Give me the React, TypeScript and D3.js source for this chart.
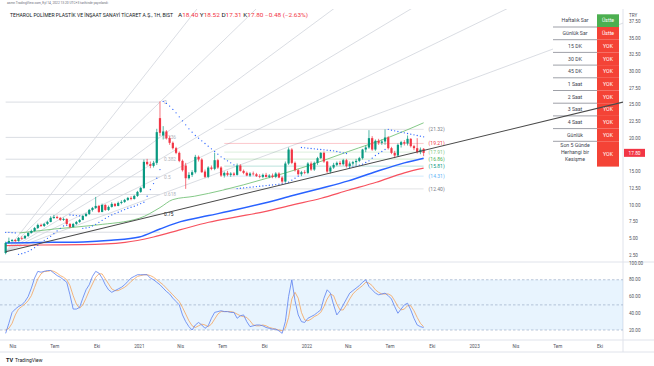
import React, { useRef, useEffect } from 'react';
import * as d3 from 'd3';

// weekly candles, first bar = week of 2020-03-16
const firstWeek = '2020-03-16';
const opens = [
  2.8, 4.3, 4.6, 4.75, 4.6, 5.05, 5.0, 5.35, 5.8, 6.1,
  6.55, 7.0, 6.85, 7.15, 7.45, 8.05, 8.2, 8.05, 7.75, 7.9,
  7.15, 6.7, 7.15, 7.45, 7.75, 8.35, 8.65, 9.25, 9.55, 9.85,
  8.95, 10.0, 9.25, 9.7, 10.15, 9.85, 10.3, 10.45, 10.75, 11.05,
  10.9, 11.35, 11.95, 12.55, 16.45, 16.1, 15.85, 16.3, 23.0, 20.4,
  21.0, 20.0, 19.3, 18.5, 17.8, 16.6, 15.9, 14.0, 14.5, 14.9,
  17.2, 16.8, 15.0, 14.2, 15.6, 15.4, 16.7, 15.6, 14.4, 14.8,
  14.5, 14.7, 14.5, 15.9, 15.1, 14.8, 14.4, 14.7, 14.6, 14.3,
  14.2, 14.5, 14.2, 14.4, 14.2, 14.7, 14.1, 13.5, 16.2, 18.3,
  16.3, 15.2, 14.6, 14.9, 14.8, 16.2, 15.3, 16.3, 17.0, 17.8,
  16.5, 15.0, 15.6, 16.0, 16.3, 16.1, 16.7, 15.8, 16.2, 16.4,
  16.6, 17.0, 18.3, 18.6, 20.0, 18.3, 19.6, 19.3, 19.5, 20.1,
  18.5, 17.8, 17.4, 19.0, 19.4, 19.2, 19.9, 18.8, 18.5, 17.9,
  18.4,
];
const highs = [
  4.5, 5.1, 4.9, 4.9, 5.2, 5.3, 5.5, 5.9, 6.3, 6.7,
  7.2, 7.2, 7.3, 7.6, 8.3, 8.5, 8.4, 8.2, 8.1, 8.0,
  7.3, 7.3, 7.6, 7.9, 8.5, 8.8, 9.4, 9.7, 11.2, 10.0,
  10.2, 10.1, 9.9, 10.4, 10.3, 10.5, 10.7, 10.9, 11.2, 11.3,
  11.5, 12.1, 12.7, 16.8, 16.9, 16.5, 16.6, 21.4, 25.5, 21.8,
  21.2, 20.3, 19.5, 18.7, 18.0, 16.8, 16.3, 14.9, 15.2, 17.5,
  17.4, 17.0, 15.3, 15.8, 15.9, 17.8, 16.9, 15.8, 15.0, 15.1,
  14.9, 14.9, 16.2, 16.1, 15.3, 15.0, 14.9, 15.0, 14.8, 14.6,
  14.7, 14.8, 14.6, 14.7, 14.9, 14.9, 14.3, 16.5, 18.6, 18.5,
  16.5, 15.4, 15.1, 15.2, 16.4, 16.5, 16.5, 17.2, 17.9, 18.0,
  16.6, 15.8, 16.3, 16.5, 16.6, 16.9, 16.9, 16.5, 16.6, 16.9,
  17.2, 18.4, 18.9, 21.2, 20.3, 19.8, 19.9, 19.8, 21.32, 20.3,
  18.7, 18.1, 19.2, 19.6, 19.7, 20.4, 20.0, 19.0, 20.0, 18.6,
  18.52,
];
const lows = [
  2.6, 4.2, 4.4, 4.4, 4.5, 4.8, 4.9, 5.2, 5.7, 6.0,
  6.4, 6.7, 6.7, 7.0, 7.4, 7.9, 7.9, 7.6, 7.6, 7.0,
  6.5, 6.6, 7.0, 7.3, 7.7, 8.2, 8.5, 9.0, 9.4, 8.8,
  8.9, 9.1, 9.1, 9.6, 9.7, 9.8, 10.1, 10.3, 10.6, 10.7,
  10.8, 11.2, 11.8, 12.4, 15.9, 15.5, 15.6, 16.0, 20.3, 19.8,
  19.8, 19.0, 18.3, 17.6, 16.4, 15.0, 12.4, 13.8, 14.2, 14.7,
  16.5, 14.8, 14.0, 14.0, 15.2, 15.2, 15.4, 14.2, 14.1, 14.3,
  14.2, 14.3, 14.4, 15.0, 14.6, 14.3, 14.2, 14.4, 14.2, 14.0,
  14.0, 14.1, 14.0, 14.0, 14.0, 14.0, 13.2, 13.4, 16.0, 16.1,
  15.0, 14.4, 14.3, 14.6, 14.6, 15.1, 15.1, 16.0, 16.9, 16.3,
  14.8, 14.7, 15.4, 15.8, 15.9, 15.9, 15.6, 15.6, 15.9, 15.9,
  16.4, 16.8, 17.9, 18.4, 18.1, 18.1, 19.0, 19.0, 19.0, 18.3,
  17.6, 17.0, 17.2, 18.6, 18.9, 18.9, 18.6, 18.2, 17.7, 17.6,
  17.31,
];
const closes = [
  4.3, 4.6, 4.75, 4.6, 5.05, 5.0, 5.35, 5.8, 6.1, 6.55,
  7.0, 6.85, 7.15, 7.45, 8.05, 8.2, 8.05, 7.75, 7.9, 7.15,
  6.7, 7.15, 7.45, 7.75, 8.35, 8.65, 9.25, 9.55, 9.85, 8.95,
  10.0, 9.25, 9.7, 10.15, 9.85, 10.3, 10.45, 10.75, 11.05, 10.9,
  11.35, 11.95, 12.55, 16.45, 16.1, 15.85, 16.3, 20.9, 20.8, 21.0,
  20.0, 19.3, 18.5, 17.8, 16.6, 15.2, 14.0, 14.5, 14.9, 17.2,
  16.8, 14.9, 14.2, 15.6, 15.4, 16.7, 15.6, 14.4, 14.8, 14.5,
  14.7, 14.5, 15.9, 15.1, 14.8, 14.4, 14.7, 14.6, 14.3, 14.2,
  14.5, 14.2, 14.4, 14.2, 14.7, 14.1, 13.5, 16.2, 18.3, 16.3,
  15.2, 14.6, 14.9, 14.8, 16.2, 15.3, 16.3, 17.0, 17.8, 16.5,
  15.0, 15.6, 16.0, 16.3, 16.1, 16.7, 15.8, 16.2, 16.4, 16.6,
  17.0, 18.3, 18.6, 20.0, 18.3, 19.6, 19.3, 19.5, 20.1, 18.5,
  17.8, 17.4, 19.0, 19.4, 19.2, 19.9, 18.8, 18.5, 17.9, 18.28,
  17.8,
];
// parabolic SAR, one dot per week
const sar = [
  5.9, 5.9, 5.85, 5.8, 2.6, 2.7, 2.85, 3.05, 3.3, 3.6,
  3.95, 4.35, 4.7, 5.0, 5.3, 5.7, 6.1, 6.5, 6.85, 6.95,
  8.5, 8.45, 8.4, 8.35, 6.5, 6.55, 6.65, 6.85, 7.1, 7.4,
  7.7, 8.0, 8.25, 8.5, 8.7, 8.9, 9.1, 9.3, 9.5, 9.65,
  9.8, 10.0, 10.2, 10.4, 11.3, 12.3, 13.2, 14.0, 15.3, 25.5,
  25.2, 24.8, 24.3, 23.8, 23.2, 22.6, 22.0, 21.4, 20.9, 20.4,
  20.0, 19.6, 19.2, 18.8, 18.4, 18.0, 17.6, 17.2, 16.9, 16.6,
  16.3, 16.0, 12.45, 12.5, 12.55, 12.6, 12.65, 12.7, 12.75, 12.8,
  12.85, 12.9, 12.95, 13.0, 13.05, 13.1, 13.15, 13.25, 13.4, 13.7,
  14.0, 14.3, 18.6, 18.55, 18.5, 18.45, 18.4, 18.35, 18.3, 18.25,
  18.2, 18.15, 18.1, 18.0, 17.9, 17.8, 17.7, 15.6, 15.7, 15.8,
  15.95, 16.1, 16.35, 16.6, 17.0, 17.4, 17.7, 18.0, 18.3, 21.32,
  21.2, 21.1, 21.0, 20.9, 20.8, 20.7, 20.6, 20.5, 20.4, 20.3,
  20.2,
];
// stochastic oscillator, weekly
const kLine = [
  16, 28, 41, 45, 48, 50, 54, 60, 70, 82,
  90, 89, 90, 91, 91, 88, 85, 83, 80, 77,
  62, 45, 45, 47, 58, 68, 74, 84, 90, 88,
  82, 74, 68, 65, 67, 69, 71, 74, 78, 82,
  84, 86, 86, 86, 86, 82, 80, 77, 74, 70,
  66, 63, 58, 54, 50, 38, 30, 24, 20, 26,
  29, 26, 22, 25, 34, 41, 42, 43, 42, 42,
  41, 41, 34, 37, 38, 30, 24, 25, 26, 26,
  25, 23, 22, 21, 21, 19, 16, 30, 60, 80,
  55, 38, 30, 29, 34, 36, 38, 41, 44, 58,
  68, 64, 50, 38, 43, 50, 57, 64, 67, 70,
  73, 77, 80, 72, 68, 64, 62, 63, 64, 61,
  57, 48, 40, 45, 50, 52, 44, 34, 26, 24,
  23,
];
const dLine = [
  20, 22, 28, 38, 45, 48, 51, 55, 61, 71,
  81, 87, 90, 90, 91, 90, 88, 85, 83, 80,
  73, 61, 51, 46, 50, 58, 67, 75, 83, 87,
  87, 81, 75, 69, 67, 67, 69, 71, 74, 78,
  81, 84, 85, 86, 86, 85, 83, 80, 77, 74,
  70, 66, 62, 58, 54, 47, 39, 31, 25, 23,
  25, 27, 26, 24, 27, 33, 39, 42, 42, 42,
  42, 41, 39, 37, 36, 35, 31, 26, 25, 25,
  26, 25, 23, 22, 21, 20, 19, 22, 35, 57,
  65, 58, 41, 32, 31, 33, 36, 38, 41, 48,
  57, 63, 61, 51, 44, 44, 50, 57, 63, 67,
  70, 73, 77, 76, 73, 68, 65, 63, 63, 63,
  61, 55, 48, 44, 45, 49, 49, 43, 35, 28,
  24,
];

// moving averages (read monthly)
const blueDates = ['2020-03-16', '2020-05-01', '2020-07-01', '2020-09-01', '2020-11-01', '2021-01-01', '2021-02-15', '2021-04-01', '2021-06-01', '2021-08-01', '2021-10-01', '2021-12-01', '2022-02-01', '2022-04-01', '2022-06-01', '2022-08-01', '2022-09-12'];
const blueValues = [4.3, 4.35, 4.4, 4.45, 4.7, 5.2, 6.4, 7.5, 8.4, 9.3, 10.3, 11.4, 12.5, 13.6, 15.0, 16.3, 17.0];
const redDates = ['2020-03-16', '2020-06-01', '2020-09-01', '2020-12-01', '2021-02-01', '2021-04-01', '2021-06-01', '2021-08-01', '2021-10-01', '2021-12-01', '2022-02-01', '2022-04-01', '2022-06-01', '2022-08-01', '2022-09-12'];
const redValues = [3.9, 4.0, 4.05, 4.4, 5.2, 6.3, 7.4, 8.2, 9.0, 10.0, 11.0, 12.2, 13.4, 14.8, 15.5];
const greenDates = ['2020-04-15', '2020-07-01', '2020-10-01', '2021-01-01', '2021-02-15', '2021-03-15', '2021-05-01', '2021-07-01', '2021-10-01', '2022-01-01', '2022-04-01', '2022-07-01', '2022-09-12'];
const greenValues = [5.8, 6.4, 7.0, 8.0, 9.6, 10.8, 11.3, 12.2, 13.9, 15.8, 18.0, 20.2, 22.3];

// fib speed fan (origin -> anchor)
const fanDates = ['2020-03-16', '2021-02-15'];
const fanPrices = [3.0, 25.4];
const fanGridLevels = [0, 0.236, 0.382, 0.5, 0.618, 0.75, 0.87];
const fanGridLabels = ['0', '0.236', '0.382', '0.5', '0.618', '0.75', ''];
const fanPriceLevels = [0, 0.236, 0.382, 0.5, 0.618];
const fanTimeLevels = [0.236];

// fib retracement on the right
const fibDates = ['2021-07-05', '2022-09-12'];
const fibPrices = [21.32, 19.21, 17.91, 16.86, 15.81, 14.31, 12.4];
const fibColors = ['#9598a1', '#f23645', '#81c784', '#4caf50', '#089981', '#64b5f6', '#9598a1'];

const priceTicks = [2.5, 5, 7.5, 10, 12.5, 15, 20, 22.5, 25, 27.5, 30, 32.5, 35, 37.5];
const oscTicks = [100, 80, 60, 40, 20];
const timeTickDates = ['2020-04-01', '2020-07-01', '2020-10-01', '2021-01-01', '2021-04-01', '2021-07-01', '2021-10-01', '2022-01-01', '2022-04-01', '2022-07-01', '2022-10-01', '2023-01-01', '2023-04-01', '2023-07-01', '2023-10-01'];
const timeTickLabels = ['Nis', 'Tem', 'Eki', '2021', 'Nis', 'Tem', 'Eki', '2022', 'Nis', 'Tem', 'Eki', '2023', 'Nis', 'Tem', 'Eki'];

const tableLabels = ['Haftalık Sar', 'Günlük Sar', '15 DK', '30 DK', '45 DK', '1 Saat', '2 Saat', '3 Saat', '4 Saat', 'Günlük'];
const tableValues = ['Üstte', 'Üstte', 'YOK', 'YOK', 'YOK', 'YOK', 'YOK', 'YOK', 'YOK', 'YOK'];
const tableLastLabel = ['Son 5 Günde', 'Herhangi bir', 'Kesişme'];

const FONT = 'Roboto, "Noto Sans", sans-serif';
const UP = '#089981';
const DOWN = '#f23645';

const App = () => {
  const chart = useRef<SVGSVGElement>(null);

  useEffect(() => {
    const svg = d3.select(chart.current);
    svg.selectAll('*').remove();
    const parse = d3.timeParse('%Y-%m-%d');
    const start = parse(firstWeek) as Date;
    const weeks = closes.map((_, i) => d3.timeDay.offset(start, i * 7));

    const paneRight = 623;
    const x = d3.scaleTime()
      .domain([parse('2020-04-01') as Date, parse('2023-10-01') as Date])
      .range([13, 600]);
    const y = d3.scaleLinear().domain([2.5, 35]).range([255, 38]);
    const yo = d3.scaleLinear().domain([20, 100]).range([330, 263]);

    svg.append('rect').attr('width', 654).attr('height', 366).attr('fill', '#fff');

    const defs = svg.append('defs');
    defs.append('clipPath').attr('id', 'pricePane')
      .append('rect').attr('x', 0).attr('y', 9).attr('width', paneRight).attr('height', 253);
    defs.append('clipPath').attr('id', 'oscPane')
      .append('rect').attr('x', 0).attr('y', 262).attr('width', paneRight).attr('height', 78);
    defs.append('clipPath').attr('id', 'axisClip')
      .append('rect').attr('x', paneRight).attr('y', 19).attr('width', 40).attr('height', 243);

    // frame
    svg.append('line').attr('x1', 0).attr('x2', 654).attr('y1', 262).attr('y2', 262).attr('stroke', '#e0e3eb');
    svg.append('line').attr('x1', 0).attr('x2', 654).attr('y1', 340).attr('y2', 340).attr('stroke', '#e0e3eb');
    svg.append('line').attr('x1', 0).attr('x2', 654).attr('y1', 352).attr('y2', 352).attr('stroke', '#e0e3eb');
    svg.append('line').attr('x1', paneRight).attr('x2', paneRight).attr('y1', 9).attr('y2', 352).attr('stroke', '#e0e3eb');

    const price = svg.append('g').attr('clip-path', 'url(#pricePane)');

    // fan grid + fan lines
    const fo = { x: x(parse(fanDates[0]) as Date), y: y(fanPrices[0]) };
    const fa = { x: x(parse(fanDates[1]) as Date), y: y(fanPrices[1]) };
    const gridY = (lv: number) => y(fanPrices[1] - lv * (fanPrices[1] - fanPrices[0]));
    fanGridLevels.forEach((lv, i) => {
      price.append('line')
        .attr('x1', fo.x).attr('x2', fa.x)
        .attr('y1', gridY(lv)).attr('y2', gridY(lv))
        .attr('stroke', '#d1d4dc').attr('stroke-width', 0.8);
      if (fanGridLabels[i]) {
        price.append('text')
          .attr('x', fa.x + 4).attr('y', gridY(lv) + 1.8)
          .attr('font-size', 4.8).attr('font-family', FONT)
          .attr('fill', lv === 0.75 ? '#131722' : '#b2b5be')
          .text(fanGridLabels[i]);
      }
    });
    const extend = (x1: number, y1: number) => {
      const k = (y1 - fo.y) / (x1 - fo.x);
      return [fo.x, fo.y, paneRight, fo.y + k * (paneRight - fo.x)];
    };
    fanPriceLevels.forEach(lv => {
      const [a, b, c, d] = extend(fa.x, gridY(lv));
      price.append('line').attr('x1', a).attr('y1', b).attr('x2', c).attr('y2', d)
        .attr('stroke', '#d1d4dc').attr('stroke-width', 0.8);
    });
    fanTimeLevels.forEach(lv => {
      const [a, b, c, d] = extend(fo.x + (1 - lv) * (fa.x - fo.x), fa.y);
      price.append('line').attr('x1', a).attr('y1', b).attr('x2', c).attr('y2', d)
        .attr('stroke', '#d1d4dc').attr('stroke-width', 0.8);
    });

    // fib retracement lines (right)
    const fx1 = x(parse(fibDates[0]) as Date);
    const fx2 = x(parse(fibDates[1]) as Date);
    fibPrices.forEach((p, i) => {
      price.append('line').attr('x1', fx1).attr('x2', fx2)
        .attr('y1', y(p)).attr('y2', y(p))
        .attr('stroke', fibColors[i]).attr('stroke-opacity', 0.35).attr('stroke-width', 0.8);
    });

    // moving averages
    const maLine = d3.line<[Date, number]>()
      .x(d => x(d[0])).y(d => y(d[1])).curve(d3.curveMonotoneX);
    const ma = (dates: string[], vals: number[]) => dates.map((s, i) => [parse(s) as Date, vals[i]] as [Date, number]);
    price.append('path').datum(ma(greenDates, greenValues)).attr('d', maLine)
      .attr('fill', 'none').attr('stroke', '#66bb6a').attr('stroke-width', 0.8);
    price.append('path').datum(ma(redDates, redValues)).attr('d', maLine)
      .attr('fill', 'none').attr('stroke', '#f7525f').attr('stroke-width', 1.2);
    price.append('path').datum(ma(blueDates, blueValues)).attr('d', maLine)
      .attr('fill', 'none').attr('stroke', '#2962ff').attr('stroke-width', 1.5);

    // candles
    const bw = 2.2;
    const candles = price.selectAll('.candle').data(weeks).enter().append('g');
    candles.append('line')
      .attr('x1', d => x(d)).attr('x2', d => x(d))
      .attr('y1', (d, i) => y(highs[i])).attr('y2', (d, i) => y(lows[i]))
      .attr('stroke', (d, i) => closes[i] >= opens[i] ? UP : DOWN).attr('stroke-width', 0.7);
    candles.append('rect')
      .attr('x', d => x(d) - bw / 2).attr('width', bw)
      .attr('y', (d, i) => Math.min(y(opens[i]), y(closes[i])))
      .attr('height', (d, i) => Math.max(0.7, Math.abs(y(opens[i]) - y(closes[i]))))
      .attr('fill', (d, i) => closes[i] >= opens[i] ? UP : DOWN);

    // SAR dots
    price.selectAll('.sar').data(weeks).enter().append('circle')
      .attr('cx', d => x(d)).attr('cy', (d, i) => y(sar[i])).attr('r', 0.65)
      .attr('fill', '#2962ff');

    // right fib labels
    fibPrices.forEach((p, i) => {
      svg.append('text').attr('x', fx2 + 5).attr('y', y(p) + 1.8)
        .attr('font-size', 5).attr('font-family', FONT).attr('fill', fibColors[i] === '#9598a1' ? '#787b86' : fibColors[i])
        .text(`(${p.toFixed(2)})`);
    });

    // table
    const tx1 = 553, tx2 = 597, tx3 = 619, ty0 = 14.3, rh = 12.7;
    svg.append('rect').attr('x', tx1).attr('y', ty0).attr('width', tx2 - tx1).attr('height', rh * 12)
      .attr('fill', '#fff');
    tableLabels.forEach((lab, i) => {
      const top = ty0 + i * rh;
      svg.append('rect').attr('x', tx2).attr('y', top).attr('width', tx3 - tx2).attr('height', rh)
        .attr('fill', i === 0 ? '#4caf50' : '#f44336');
      svg.append('text').attr('x', (tx1 + tx2) / 2).attr('y', top + rh / 2 + 1.8)
        .attr('text-anchor', 'middle').attr('font-size', 5.2).attr('font-family', FONT).attr('fill', '#434651')
        .text(lab);
      svg.append('text').attr('x', (tx2 + tx3) / 2).attr('y', top + rh / 2 + 1.8)
        .attr('text-anchor', 'middle').attr('font-size', 5.2).attr('font-family', FONT).attr('fill', '#fff')
        .text(tableValues[i]);
      svg.append('line').attr('x1', tx1).attr('x2', tx2).attr('y1', top + rh).attr('y2', top + rh)
        .attr('stroke', '#5d606b').attr('stroke-width', 0.6);
    });
    const lastTop = ty0 + tableLabels.length * rh;
    svg.append('rect').attr('x', tx2).attr('y', lastTop).attr('width', tx3 - tx2).attr('height', 25.3)
      .attr('fill', '#f44336');
    tableLastLabel.forEach((t, j) => {
      svg.append('text').attr('x', (tx1 + tx2) / 2).attr('y', lastTop + 6 + j * 6.8)
        .attr('text-anchor', 'middle').attr('font-size', 5.2).attr('font-family', FONT).attr('fill', '#434651')
        .text(t);
    });
    svg.append('text').attr('x', (tx2 + tx3) / 2).attr('y', lastTop + 14.5)
      .attr('text-anchor', 'middle').attr('font-size', 5.2).attr('font-family', FONT).attr('fill', '#fff')
      .text('YOK');

    // dark fan line (0.75) over everything
    const dark = svg.append('g').attr('clip-path', 'url(#pricePane)');
    const [a, b, c, d] = extend(fa.x, gridY(0.75));
    dark.append('line').attr('x1', a).attr('y1', b).attr('x2', c).attr('y2', d)
      .attr('stroke', '#4a4a4a').attr('stroke-width', 1.1);

    // oscillator pane
    const osc = svg.append('g').attr('clip-path', 'url(#oscPane)');
    osc.append('rect').attr('x', 0).attr('width', paneRight)
      .attr('y', yo(80)).attr('height', yo(20) - yo(80)).attr('fill', '#2196f3').attr('fill-opacity', 0.1);
    [80, 50, 20].forEach(v => {
      osc.append('line').attr('x1', 0).attr('x2', paneRight).attr('y1', yo(v)).attr('y2', yo(v))
        .attr('stroke', '#8fa3c0').attr('stroke-width', 0.6).attr('stroke-dasharray', '2.5,2');
    });
    const oscLine = (vals: number[]) => d3.line<Date>().x(d => x(d)).y((d, i) => yo(vals[i]))(weeks);
    osc.append('path').attr('d', oscLine(dLine)).attr('fill', 'none').attr('stroke', '#f5a35a').attr('stroke-width', 0.8);
    osc.append('path').attr('d', oscLine(kLine)).attr('fill', 'none').attr('stroke', '#5b7ff0').attr('stroke-width', 0.8);

    // price axis
    const axis = svg.append('g').attr('clip-path', 'url(#axisClip)');
    priceTicks.forEach(t => {
      axis.append('text').attr('x', 629).attr('y', y(t) + 1.7)
        .attr('font-size', 4.6).attr('font-family', FONT).attr('fill', '#50535e')
        .text(t.toFixed(2));
    });
    svg.append('text').attr('x', 629).attr('y', 16.5).attr('font-size', 4.6).attr('font-family', FONT)
      .attr('fill', '#50535e').text('TRY');
    oscTicks.forEach(t => {
      svg.append('text').attr('x', 629).attr('y', yo(t) + 1.7)
        .attr('font-size', 4.6).attr('font-family', FONT).attr('fill', '#50535e')
        .text(t.toFixed(2));
    });
    const last = closes[closes.length - 1];
    svg.append('rect').attr('x', 624).attr('y', y(last) - 4).attr('width', 21).attr('height', 8)
      .attr('fill', DOWN);
    svg.append('text').attr('x', 634.5).attr('y', y(last) + 1.8).attr('text-anchor', 'middle')
      .attr('font-size', 4.8).attr('font-family', FONT).attr('fill', '#fff').text(last.toFixed(2));

    // time axis
    timeTickDates.forEach((s, i) => {
      svg.append('text').attr('x', x(parse(s) as Date)).attr('y', 347.5)
        .attr('text-anchor', 'middle').attr('font-size', 4.6).attr('font-family', FONT)
        .attr('fill', '#50535e').text(timeTickLabels[i]);
    });

    // header
    svg.append('text').attr('x', 7).attr('y', 4.3).attr('font-size', 3.4).attr('font-family', FONT)
      .attr('fill', '#6a6d78').attr('textLength', 101).attr('lengthAdjust', 'spacingAndGlyphs')
      .text('asmn TradingView.com, Eyl 14, 2022 13:20 UTC+3 tarihinde yayınlandı');
    svg.append('text').attr('x', 10).attr('y', 17.4).attr('font-size', 4.6).attr('font-family', FONT)
      .attr('fill', '#131722').attr('textLength', 163).attr('lengthAdjust', 'spacingAndGlyphs')
      .text('TEHAROL POLİMER PLASTİK VE İNŞAAT SANAYİ TİCARET A.Ş., 1H, BIST');
    const ohlc = svg.append('text').attr('x', 178).attr('y', 17.4).attr('font-size', 4.6)
      .attr('font-family', FONT).attr('textLength', 130).attr('lengthAdjust', 'spacingAndGlyphs');
    [['A', '18.40 '], ['Y', '18.52 '], ['D', '17.31 '], ['K', '17.80 ']].forEach(([k, v]) => {
      ohlc.append('tspan').attr('fill', '#131722').text(k);
      ohlc.append('tspan').attr('fill', DOWN).text(v);
    });
    ohlc.append('tspan').attr('fill', DOWN).text('−0.48 (−2.63%)');

    // logo
    svg.append('text').attr('x', 6).attr('y', 362).attr('font-size', 5.5).attr('font-weight', 'bold')
      .attr('font-family', FONT).attr('fill', '#131722').text('TV');
    svg.append('text').attr('x', 15).attr('y', 362).attr('font-size', 5).attr('font-family', FONT)
      .attr('fill', '#131722').text('TradingView');
  }, []);

  return (
    <svg ref={chart} width={654} height={366} style={{ position: 'absolute', left: 0, top: 0 }}></svg>
  );
};

export default App;
